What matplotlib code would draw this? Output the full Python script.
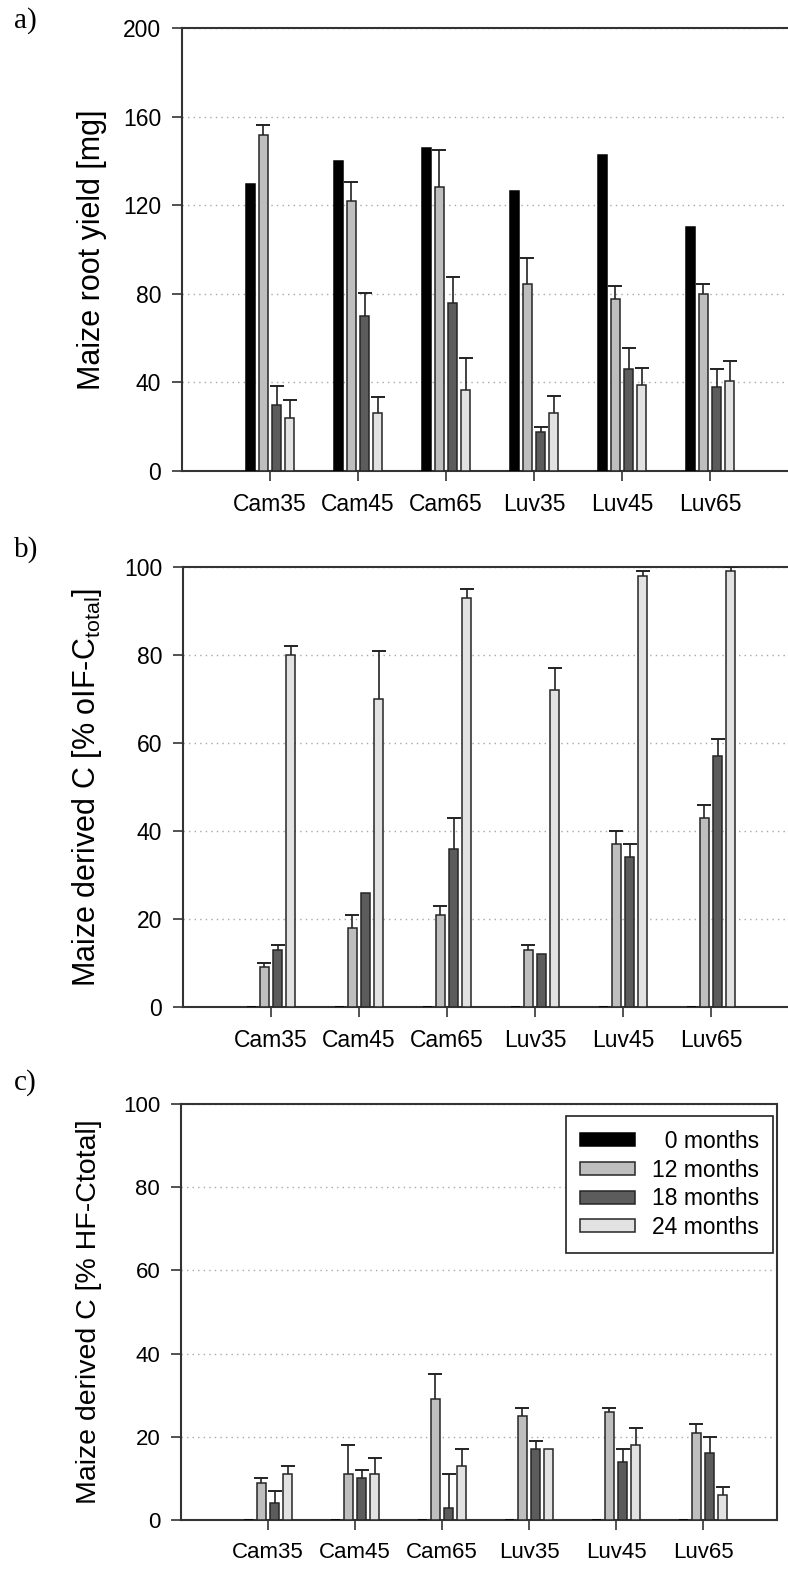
import numpy as np
import matplotlib
matplotlib.use("Agg")
import matplotlib.pyplot as plt

plt.rcParams['font.family'] = ['Liberation Sans', 'DejaVu Sans']
plt.rcParams['mathtext.fontset'] = 'custom'
plt.rcParams['mathtext.rm'] = 'Liberation Sans'
plt.rcParams['mathtext.it'] = 'Liberation Sans'

categories = ["Cam35", "Cam45", "Cam65", "Luv35", "Luv45", "Luv65"]
series_labels = ["  0 months", "12 months", "18 months", "24 months"]

# Panel a: maize root yield [mg]
a_0m = [129.5, 140, 146, 126.5, 142.5, 110]
a_12m = [151.5, 122, 128, 84.5, 77.5, 80]
a_12m_err = [4.5, 8.5, 17, 11.5, 6, 4.5]
a_18m = [30, 70, 76, 17.5, 46, 38]
a_18m_err = [8.5, 10.5, 11.5, 2.5, 9.5, 8]
a_24m = [24, 26, 36.5, 26, 39, 40.5]
a_24m_err = [8, 7.5, 14.5, 8, 7.5, 9]

# Panel b: maize derived C [% oIF-C total]
b_0m = [0, 0, 0, 0, 0, 0]
b_12m = [9, 18, 21, 13, 37, 43]
b_12m_err = [1, 3, 2, 1, 3, 3]
b_18m = [13, 26, 36, 12, 34, 57]
b_18m_err = [1, np.nan, 7, np.nan, 3, 4]
b_24m = [80, 70, 93, 72, 98, 99]
b_24m_err = [2, 11, 2, 5, 1, 1]

# Panel c: maize derived C [% HF-C total]
c_0m = [0, 0, 0, 0, 0, 0]
c_12m = [9, 11, 29, 25, 26, 21]
c_12m_err = [1, 7, 6, 2, 1, 2]
c_18m = [4, 10, 3, 17, 14, 16]
c_18m_err = [3, 2, 8, 2, 3, 4]
c_24m = [11, 11, 13, 17, 18, 6]
c_24m_err = [2, 4, 4, np.nan, 4, 2]

face_colors = ["#000000", "#bebebe", "#5c5c5c", "#e2e2e2"]
edge_colors = ["#000000", "#262626", "#262626", "#262626"]

W, H = 788, 1587
fig = plt.figure(figsize=(W / 100, H / 100), dpi=100)


def px_axes(left, top, right, bottom):
    return fig.add_axes([left / W, 1 - bottom / H, (right - left) / W, (bottom - top) / H])


def draw_panel(ax, vals, errs, ymax, ystep, xmax, tick_fs):
    x = np.arange(1, len(categories) + 1)
    offsets = [-0.225, -0.075, 0.075, 0.225]
    width = 0.1
    handles = []
    for i, v in enumerate(vals):
        b = ax.bar(x + offsets[i], v, width=width, color=face_colors[i],
                   edgecolor=edge_colors[i], linewidth=1.1, zorder=3,
                   label=series_labels[i])
        handles.append(b)
        e = errs[i]
        if e is None:
            continue
        v_arr = np.asarray(v, dtype=float)
        e_arr = np.asarray(e, dtype=float)
        ok = ~np.isnan(e_arr)
        xs = (x + offsets[i])[ok]
        ax.vlines(xs, v_arr[ok], v_arr[ok] + e_arr[ok], color="#222222",
                  linewidth=1.2, zorder=4)
        ax.plot(xs, v_arr[ok] + e_arr[ok], linestyle="none", marker="_",
                markersize=10, markeredgewidth=1.4, color="#222222", zorder=4)
    ax.set_xlim(0, xmax)
    ax.set_ylim(0, ymax)
    ax.set_xticks(x)
    ax.set_xticklabels(categories, fontsize=tick_fs)
    ax.set_yticks(np.arange(0, ymax + 1, ystep))
    ax.tick_params(axis='y', labelsize=tick_fs, direction='out', length=7,
                   width=1.2, color="#333333", pad=8, right=False)
    ax.tick_params(axis='x', direction='out', length=7, width=1.2,
                   color="#333333", pad=9, top=False)
    ax.yaxis.grid(True, linestyle=(0, (1, 3)), color="#a8a8a8", linewidth=1.0)
    ax.set_axisbelow(True)
    for s in ax.spines.values():
        s.set_color("#333333")
        s.set_linewidth(1.5)
    return handles


# Panel a
ax_a = px_axes(182, 28, 182 + 7 * 88, 471)
draw_panel(ax_a, [a_0m, a_12m, a_18m, a_24m],
           [None, a_12m_err, a_18m_err, a_24m_err], 200, 40, 7, 16.5)

# Panel b
ax_b = px_axes(183, 567, 183 + 7 * 88, 1007)
draw_panel(ax_b, [b_0m, b_12m, b_18m, b_24m],
           [None, b_12m_err, b_18m_err, b_24m_err], 100, 20, 7, 16.5)

# Panel c
ax_c = px_axes(181, 1104, 777, 1520)
hc = draw_panel(ax_c, [c_0m, c_12m, c_18m, c_24m],
                [None, c_12m_err, c_18m_err, c_24m_err], 100, 20, 596 / 87, 16)

leg = ax_c.legend(handles=hc, loc='upper right', bbox_to_anchor=(0.993, 0.971),
                  borderaxespad=0, fontsize=16.5, handlelength=2.4,
                  handleheight=0.5, handletextpad=0.75, labelspacing=0.25,
                  borderpad=0.6, fancybox=False, framealpha=1,
                  edgecolor="#222222")
leg.get_frame().set_linewidth(1.2)

# Y labels
fig.text(92 / W, 1 - 249.5 / H, "Maize root yield [mg]", rotation=90,
         ha='center', va='center', fontsize=22)
fig.text(87 / W, 1 - 787 / H, r"Maize derived C [% oIF-C$_{\mathrm{total}}$]",
         rotation=90, ha='center', va='center', fontsize=22)
fig.text(89.5 / W, 1 - 1312 / H, "Maize derived C [% HF-Ctotal]", rotation=90,
         ha='center', va='center', fontsize=20.5)

# Panel letters
for lab, ytop in [("a)", 7), ("b)", 536), ("c)", 1069)]:
    fig.text(14 / W, 1 - ytop / H, lab, ha='left', va='top', fontsize=21,
             family=['Liberation Serif', 'DejaVu Serif'])

fig.savefig("out.png", dpi=100)
